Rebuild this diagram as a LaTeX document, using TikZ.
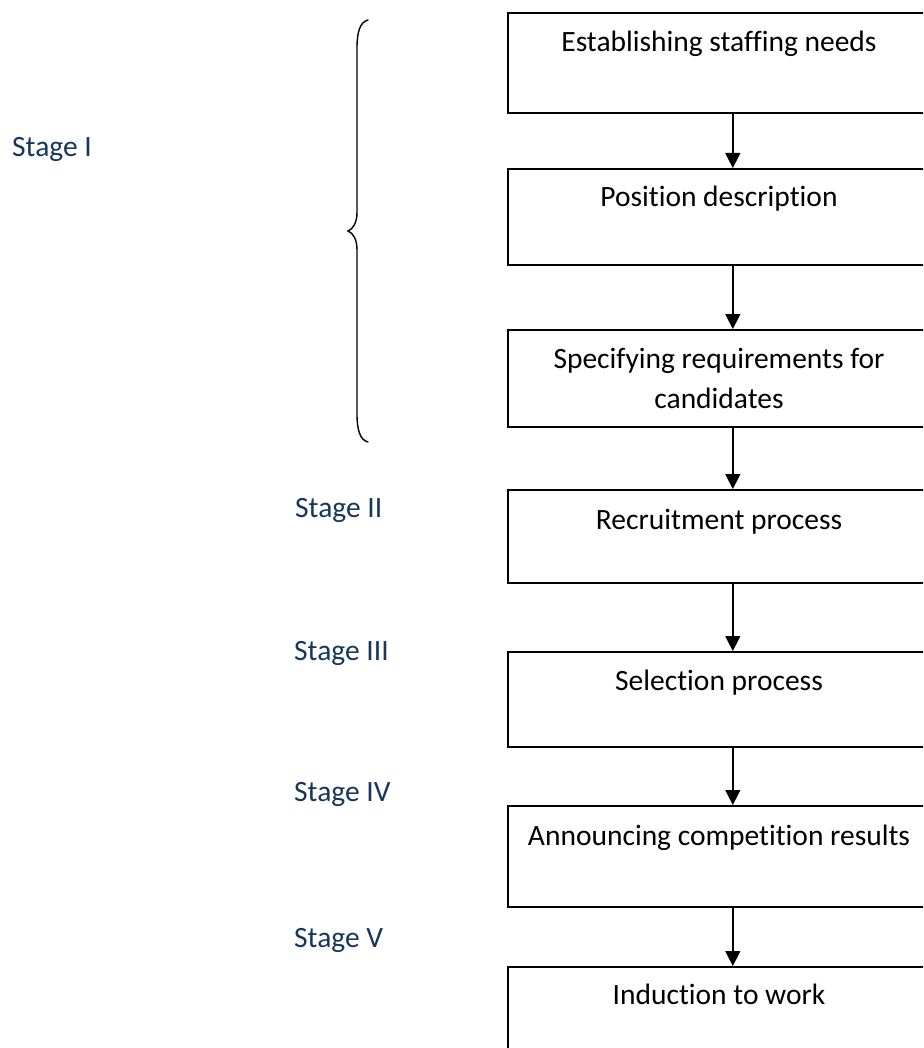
\documentclass[tikz,border=0pt]{standalone}
\usepackage{fontspec}
\setmainfont{Carlito}[Ligatures=NoCommon]
\usetikzlibrary{arrows.meta}
\definecolor{stagecol}{HTML}{17365D}
\tikzset{
  boxnode/.style={draw=black, line width=1.6pt, minimum width=424pt, anchor=north west, inner sep=0pt},
  boxtext/.style={anchor=base, inner sep=0pt, font=\fontsize{29.5}{40}\selectfont, align=center, text=black},
  stagelabel/.style={anchor=base west, inner sep=0pt, font=\fontsize{29.5}{36}\selectfont, text=stagecol},
  flowarrow/.style={line width=1.4pt, -{Triangle[width=15pt,length=15pt]}},
  bracestyle/.style={line width=1.4pt, line cap=round}
}
\begin{document}
\begin{tikzpicture}[x=1pt,y=-1pt]
\useasboundingbox (0,0) rectangle (923,1048);
\clip (0,0) rectangle (923,1048);
% boxes
\node[boxnode, minimum height=100pt] (b1) at (507,12) {};
\node[boxnode, minimum height=96pt]  (b2) at (507,168) {};
\node[boxnode, minimum height=97pt]  (b3) at (507,329) {};
\node[boxnode, minimum height=93pt]  (b4) at (507,489) {};
\node[boxnode, minimum height=95pt]  (b5) at (507,651) {};
\node[boxnode, minimum height=101pt] (b6) at (507,805) {};
\node[boxnode, minimum height=100pt] (b7) at (507,966) {};
% box texts
\node[boxtext] (t1) at (719,52) {Establishing staffing needs};
\node[boxtext] (t2) at (719,207) {Position description};
\node[boxtext] (t3a) at (719,368) {Specifying requirements for};
\node[boxtext] (t3b) at (719,408) {candidates};
\node[boxtext] (t4) at (719,529) {Recruitment process};
\node[boxtext] (t5) at (719,690) {Selection process};
\node[boxtext] (t6) at (719,845) {Announcing competition results};
\node[boxtext] (t7) at (719,1004) {Induction to work};
% arrows
\foreach \a/\b in {b1/b2,b2/b3,b3/b4,b4/b5,b5/b6,b6/b7}{
  \draw[flowarrow] ([xshift=13pt]\a.south) -- ([xshift=13pt]\b.north);
}
% stage labels
\node[stagelabel] (s1) at (12,157) {Stage I};
\node[stagelabel] (s2) at (295,517) {Stage II};
\node[stagelabel] (s3) at (294,660) {Stage III};
\node[stagelabel] (s4) at (294,801) {Stage IV};
\node[stagelabel] (s5) at (294,947) {Stage V};
% brace
\draw[bracestyle] (368,20) .. controls (360,22) and (357,32) .. (357,48)
  -- (357,212) .. controls (357,223) and (353,229) .. (348,231)
  .. controls (353,233) and (357,239) .. (357,250)
  -- (357,414) .. controls (357,430) and (360,440) .. (368,442);
\end{tikzpicture}
\end{document}
